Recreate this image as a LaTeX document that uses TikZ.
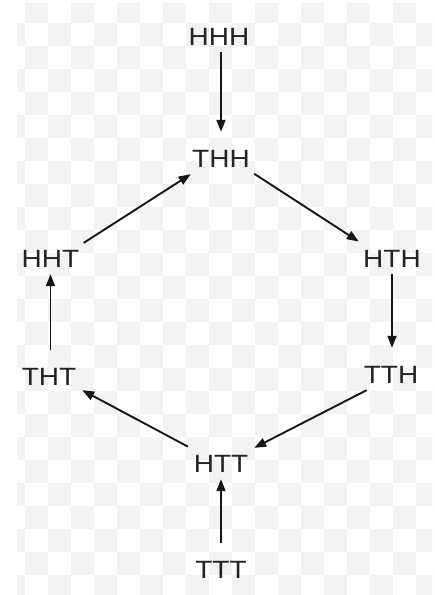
\documentclass[tikz,border=0pt]{standalone}
\usepackage{fontspec}
\newfontfamily\lblfont[FakeStretch=1.12]{Liberation Sans}
\usetikzlibrary{arrows.meta}
\definecolor{chk}{HTML}{F3F3F3}
\definecolor{ink}{HTML}{242424}
\definecolor{edge}{HTML}{161616}
\tikzset{
  state/.style={font=\lblfont\fontsize{25}{30}\selectfont, text=ink,
    text height=35pt, text depth=7pt, inner sep=0pt, minimum width=66pt},
  trans/.style={draw=edge, line width=1.9pt,
    -{Triangle[length=12pt,width=9pt]}}
}
\begin{document}
\begin{tikzpicture}[x=1pt,y=-1pt]
  \useasboundingbox (0,0) rectangle (435,595);
  \fill[white] (0,0) rectangle (435,595);
  % faint checkered backdrop
  \begin{scope}
    \clip (17,3) rectangle (432,595);
    \foreach \i in {0,...,18} {
      \foreach \j in {0,...,25} {
        \pgfmathtruncatemacro\chkpar{mod(\i+\j,2)}
        \ifnum\chkpar=1
          \fill[chk] ({2+23*\i},{23*\j}) rectangle ++(23,23);
        \fi
      }
    }
  \end{scope}
  % states
  \node[state] (hhh) at (219,31)  {HHH};
  \node[state] (thh) at (221,153) {THH};
  \node[state] (hht) at (50.5,253) {HHT};
  \node[state] (hth) at (392,253) {HTH};
  \node[state] (tht) at (49,371)  {THT};
  \node[state] (tth) at (391,369) {TTH};
  \node[state] (htt) at (221,458) {HTT};
  \node[state] (ttt) at (221,564) {TTT};
  % transitions
  \draw[trans] (thh.north |- hhh.south) -- (thh.north);
  \draw[trans] (thh.328) -- (hth.161);
  \draw[trans] (hth.south) -- (hth.south |- tth.north);
  \draw[trans] (tth.221) -- (htt.17);
  \draw[trans] (htt.161.6) -- (tht.330);
  \draw[trans] (hht.south |- tht.north) -- (hht.south);
  \draw[trans] (hht.17) -- (thh.215);
  \draw[trans] (ttt.north) -- (htt.south);
\end{tikzpicture}
\end{document}
